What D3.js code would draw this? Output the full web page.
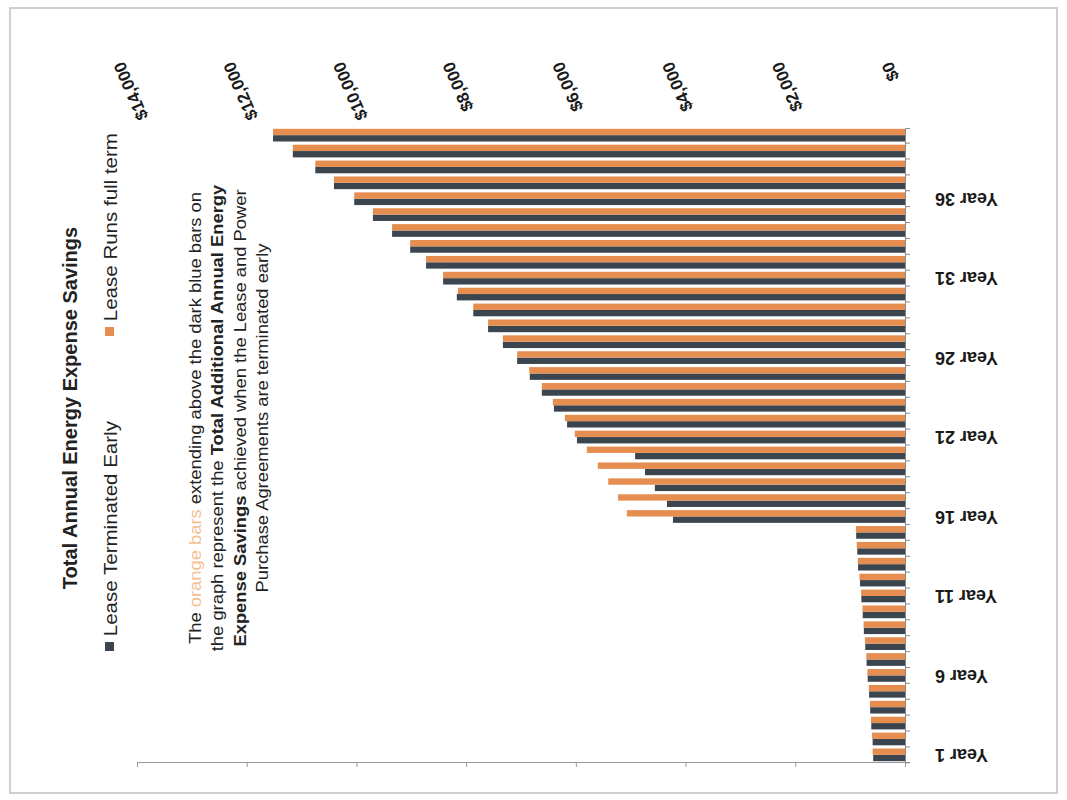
<!DOCTYPE html>
<html>
<head>
<meta charset="utf-8">
<style>
  body { margin: 0; background: #fff; font-family: "Liberation Sans", Arial, sans-serif; }
</style>
<script src="https://cdn.jsdelivr.net/npm/d3@7"></script>
</head>
<body>
<svg id="chart"></svg>
<script>
// values, dollars per year
let years = d3.range(1, 41).map(n => "Year " + n)
let shownYears = ["Year 1", "Year 6", "Year 11", "Year 16", "Year 21", "Year 26", "Year 31", "Year 36"]

let leaseTerminatedEarly = [580, 590, 615, 635, 655, 680, 700, 725, 750, 770,
  795, 820, 855, 870, 890, 4230, 4340, 4560, 4740, 4920,
  5980, 6160, 6400, 6620, 6840, 7070, 7330, 7600, 7870, 8170,
  8420, 8730, 9020, 9350, 9700, 10040, 10410, 10750, 11160, 11520]

let leaseFullTerm = [590, 600, 620, 640, 660, 685, 705, 730, 755, 775,
  800, 830, 860, 880, 895, 5070, 5230, 5410, 5600, 5800,
  6020, 6200, 6420, 6620, 6850, 7070, 7330, 7600, 7870, 8150,
  8420, 8730, 9020, 9350, 9700, 10040, 10410, 10750, 11160, 11520]

let valueTicks = [0, 2000, 4000, 6000, 8000, 10000, 12000, 14000]

let seriesNames = ["Lease Terminated Early", "Lease Runs full term"]
let seriesKeys = ["early", "full"]

let title = "Total Annual Energy Expense Savings"
let noteLines = [
  [["The ", ""], ["orange bars", "orange"], [" extending above the dark blue bars on", ""]],
  [["the graph represent the ", ""], ["Total Additional Annual Energy", "bold"]],
  [["Expense Savings", "bold"], [" achieved when the Lease and Power", ""]],
  [["Purchase Agreements are terminated early", ""]]
]

let colors = { early: "#3b4550", full: "#e68d50" }

let width = 1067, height = 800
let plot = { left: 137, right: 905, top: 128, bottom: 762 }

let svg = d3.select("#chart").attr("width", width).attr("height", height)

// page frame
svg.append("rect")
  .attr("x", 10).attr("y", 8)
  .attr("width", 1047).attr("height", 785)
  .attr("fill", "none").attr("stroke", "#cfcfcf").attr("stroke-width", 2)

// the sheet is printed upside down: zero on the right, Year 1 at the bottom
let x = d3.scaleLinear().domain([0, 14000]).range([plot.right, plot.left])
let y = d3.scaleBand().domain(years).range([plot.bottom, plot.top])
  .paddingInner(0.2).paddingOuter(0.05)
let sub = d3.scaleBand().domain(["full", "early"]).range([0, y.bandwidth()])

let rows = years.map((yr, i) => ({ year: yr, early: leaseTerminatedEarly[i], full: leaseFullTerm[i] }))

let groups = svg.append("g").selectAll("g").data(rows).enter().append("g")
  .attr("transform", d => `translate(0,${y(d.year)})`)

groups.selectAll("rect")
  .data(d => seriesKeys.map(k => ({ key: k, value: d[k] })))
  .enter().append("rect")
  .attr("x", d => x(d.value))
  .attr("y", d => sub(d.key))
  .attr("width", d => x(0) - x(d.value))
  .attr("height", sub.bandwidth())
  .attr("fill", d => colors[d.key])

// value axis: ticks along the bottom, labels along the top
let xTicks = svg.append("g")
  .attr("transform", `translate(0,${plot.bottom})`)
  .call(d3.axisBottom(x).tickValues(valueTicks).tickSize(5).tickFormat(""))
xTicks.selectAll("path,line").attr("stroke", "#9a9a9a")

let xLabels = svg.append("g")
  .attr("transform", "translate(0,63)")
  .call(d3.axisTop(x).tickValues(valueTicks).tickSize(0).tickFormat(d3.format("$,")))
xLabels.select(".domain").remove()
xLabels.selectAll("text")
  .attr("y", 0).attr("dy", "0.35em")
  .attr("text-anchor", "end")
  .attr("transform", "translate(-19,0) rotate(-113.5)")
  .attr("font-family", "Liberation Sans, Arial, sans-serif")
  .attr("font-size", 17).attr("font-weight", "bold").attr("fill", "#1a1a1a")

// category axis
let yAxis = svg.append("g")
  .attr("transform", `translate(${plot.right},0)`)
  .call(d3.axisRight(y).tickSize(5).tickFormat(d => shownYears.includes(d) ? d : ""))
yAxis.selectAll("path,line").attr("stroke", "#8a8a8a")
yAxis.selectAll(".tick line").attr("transform", `translate(0,${y.step() / 2})`)
yAxis.selectAll("text")
  .attr("x", 0).attr("dy", "0.32em")
  .attr("text-anchor", "end")
  .attr("transform", "translate(30,0) rotate(180)")
  .attr("font-family", "Liberation Sans, Arial, sans-serif")
  .attr("font-size", 18).attr("font-weight", "bold").attr("fill", "#1a1a1a")

// title, legend and note all run up the page
svg.append("text")
  .attr("transform", "translate(77,408) rotate(-90)")
  .attr("text-anchor", "middle")
  .attr("font-size", 20).attr("font-weight", "bold").attr("fill", "#222")
  .text(title)

let legendStarts = [647, 332]
let legend = svg.append("g").selectAll("g").data(seriesNames).enter().append("g")
  .attr("transform", (d, i) => `translate(117,${legendStarts[i]}) rotate(-90)`)
legend.append("rect")
  .attr("x", -4).attr("y", -12).attr("width", 9).attr("height", 9)
  .attr("fill", (d, i) => colors[seriesKeys[i]])
legend.append("text")
  .attr("x", 10).attr("font-size", 19).attr("fill", "#222")
  .attr("transform", "scale(1.08,1)")
  .text(d => d)

let note = svg.append("g").attr("transform", "translate(201,418) rotate(-90) scale(1.08,1)")
noteLines.forEach((line, i) => {
  let t = note.append("text")
    .attr("y", i * 22.5)
    .attr("text-anchor", "middle")
    .attr("font-size", 17).attr("fill", "#222")
  line.forEach(([s, style]) => {
    t.append("tspan")
      .attr("font-weight", style == "bold" ? "bold" : "normal")
      .attr("fill", style == "orange" ? "#f3bf93" : "#222")
      .text(s)
  })
})
</script>
</body>
</html>
